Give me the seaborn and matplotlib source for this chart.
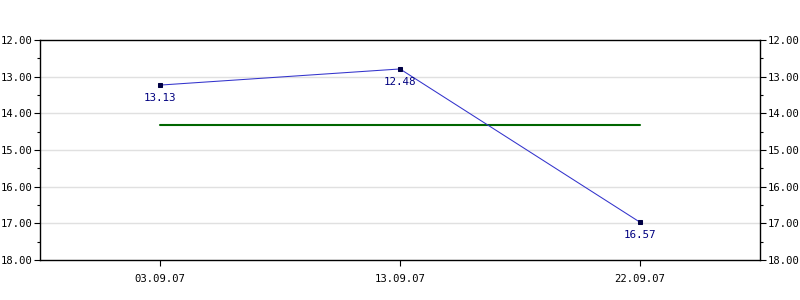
import matplotlib
matplotlib.use("Agg")
import matplotlib.pyplot as plt
from matplotlib.ticker import MultipleLocator, FormatStrFormatter
import seaborn as sns
import pandas as pd

dates = ["03.09.07", "13.09.07", "22.09.07"]
values = [13.23, 12.79, 16.97]
value_labels = ["13.13", "12.48", "16.57"]
average = [14.33, 14.33, 14.33]
y_ticks = [12, 13, 14, 15, 16, 17, 18]

sns.set_style("white")
plt.rcParams["font.family"] = ["DejaVu Sans Mono"]
plt.rcParams["font.size"] = 7.6
plt.rcParams["text.color"] = "black"
plt.rcParams["xtick.color"] = "black"
plt.rcParams["ytick.color"] = "black"

df = pd.DataFrame({"date": dates, "value": values, "avg": average})

fig = plt.figure(figsize=(8, 3), dpi=100)
ax = fig.add_axes([0.05, 0.1333, 0.90, 0.7334])

for y in y_ticks[1:-1]:
    ax.axhline(y, color="#e0e0e0", lw=1, zorder=0)

sns.lineplot(data=df, x="date", y="avg", ax=ax, color="#006600", lw=1.5, zorder=2)
sns.lineplot(data=df, x="date", y="value", ax=ax, color="#3333cc", lw=0.75,
             marker="s", markersize=3.5, markerfacecolor="#000044",
             markeredgecolor="#000044", zorder=3)

for i, (v, lab) in enumerate(zip(values, value_labels)):
    ax.annotate(lab, (i, v), xytext=(0, -13), textcoords="offset pixels",
                ha="center", va="center", color="#000080", fontsize=7.8)

ax.set_xlim(-0.5, 2.5)
ax.set_ylim(18, 12)
ax.set_yticks(y_ticks)
ax.yaxis.set_major_formatter(FormatStrFormatter("%.2f"))
ax.yaxis.set_minor_locator(MultipleLocator(0.5))
ax.tick_params(axis="y", which="major", length=4.5, width=0.8, color="black",
               left=True, right=True, labelleft=True, labelright=True, pad=0.8)
ax.tick_params(axis="y", which="minor", length=2.5, width=0.8, color="black",
               left=True, right=True)
ax.tick_params(axis="x", which="major", length=4, width=0.8, color="black",
               bottom=True, pad=6)
ax.set_xlabel("")
ax.set_ylabel("")
for s in ax.spines.values():
    s.set_color("black")
    s.set_linewidth(1)
ax.grid(False)

fig.savefig("out.png", dpi=100, facecolor="white")
